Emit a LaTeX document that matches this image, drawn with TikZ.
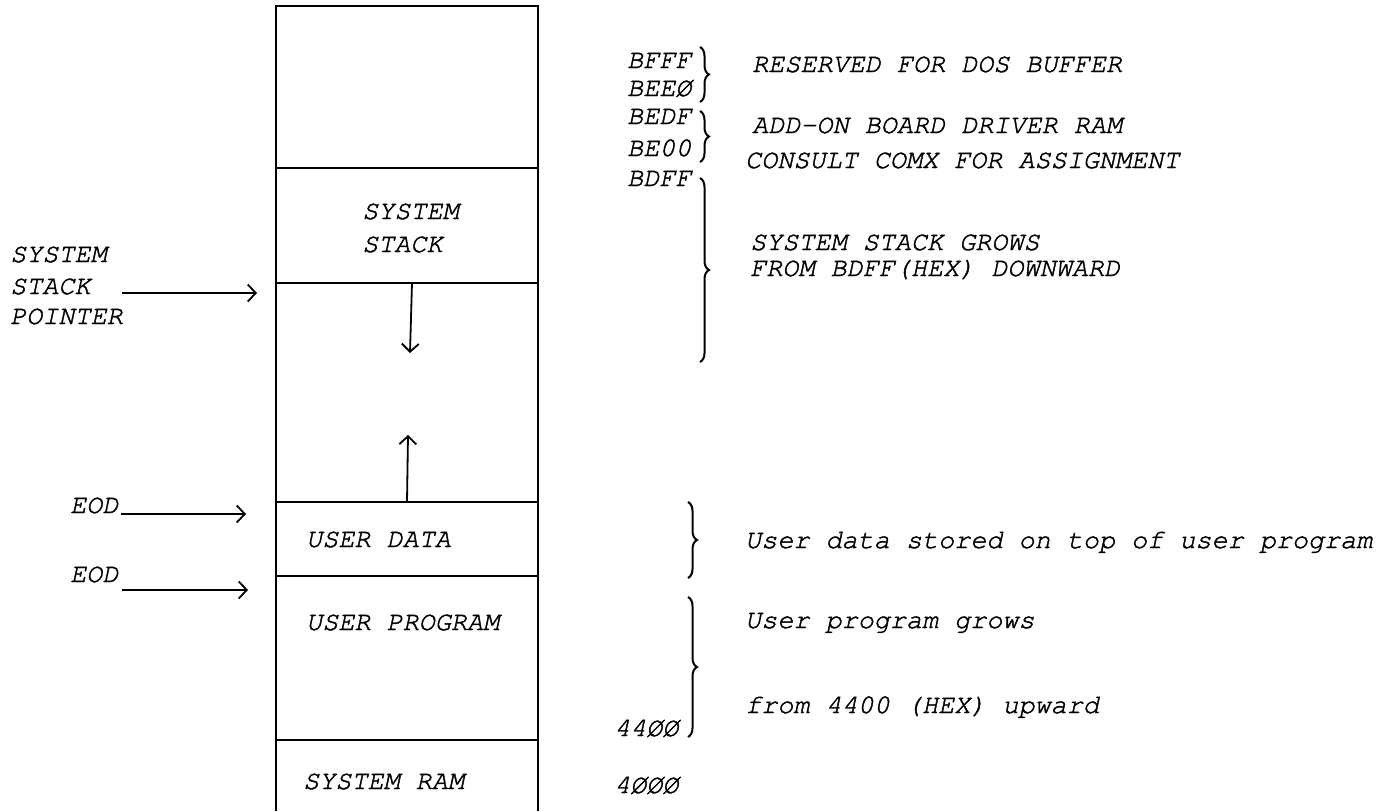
\documentclass[tikz,border=0pt]{standalone}
\usepackage{fontspec}
\setmonofont{texgyrecursor-regular.otf}[ItalicFont=texgyrecursor-italic.otf,ItalicFeatures={FakeBold=1.6}]
\usetikzlibrary{arrows.meta,decorations.pathreplacing}
\begin{document}
\begin{tikzpicture}[x=1pt,y=-1pt,
  txt/.style={anchor=base west,inner sep=0pt,font=\fontsize{26.8}{30}\selectfont\ttfamily\itshape},
  wall/.style={line width=2pt},
  ptr/.style={line width=1.8pt,-{Straight Barb[length=8pt,width=17pt,line width=1.8pt]}},
  brc/.style={line width=2pt,decorate,decoration={brace,amplitude=9pt,aspect=0.5}}]
\useasboundingbox[fill=white] (0,0) rectangle (1399,811);

% memory map column
\draw[wall] (276,811) -- (276,6) -- (538,6) -- (538,811);
\foreach \y in {168,283,502,576,740} \draw[wall] (276,\y) -- (538,\y);

% labels inside the column
\node[txt] (ss1) at (362,219) {SYSTEM};
\node[txt] (ss2) at (362,252) {STACK};
\node[txt] (ud) at (306,547) {USER DATA};
\node[txt] (up) at (306,630) {USER PROGRAM};
\node[txt] (sr) at (303,789) {SYSTEM RAM};

% growth arrows
\coordinate (dnA) at (412,283);
\coordinate (dnB) at (410,353);
\coordinate (upA) at (407,502);
\coordinate (upB) at (408,435);
\draw[ptr] (dnA) -- (dnB);
\draw[ptr] (upA) -- (upB);

% left labels and pointers
\node[txt] (spl1) at (10,262) {SYSTEM};
\node[txt] (spl2) at (10,294) {STACK};
\node[txt] (spl3) at (10,324) {POINTER};
\coordinate (spA) at (122,293);
\coordinate (spB) at (257,293);
\draw[ptr] (spA) -- (spB);

\node[txt] (eod1) at (70,513) {EOD};
\coordinate (e1A) at (121,514);
\coordinate (e1B) at (246,514);
\draw[ptr] (e1A) -- (e1B);

\node[txt] (eod2) at (70,582) {EOD};
\coordinate (e2A) at (122,590);
\coordinate (e2B) at (248,590);
\draw[ptr] (e2A) -- (e2B);

% addresses
\node[txt] (a1) at (627,68) {BFFF};
\node[txt] (a2) at (627,96) {BEEØ};
\node[txt] (a3) at (627,124) {BEDF};
\node[txt] (a4) at (627,156) {BE00};
\node[txt] (a5) at (627,186) {BDFF};
\node[txt] (a6) at (614,736) {44ØØ};
\node[txt] (a7) at (614,793) {4ØØØ};

% braces
\draw[brc] (700,47) -- (700,102);
\draw[brc] (700,111) -- (700,162);
\draw[brc] (700,178) -- (700,362);
\draw[brc] (688,502) -- (688,578);
\draw[brc] (688,597) -- (688,737);

% descriptions
\node[txt] (d1) at (752,72) {RESERVED FOR DOS BUFFER};
\node[txt] (d2) at (752,133) {ADD-ON BOARD DRIVER RAM};
\node[txt] (d3) at (745,168) {CONSULT COMX FOR ASSIGNMENT};
\node[txt] (d4) at (750,250) {SYSTEM STACK GROWS};
\node[txt] (d5) at (750,276) {FROM BDFF(HEX) DOWNWARD};
\node[txt] (d6) at (745,548) {User data stored on top of user program};
\node[txt] (d7) at (745,628) {User program grows};
\node[txt] (d8) at (745,713) {from 4400 (HEX) upward};
\end{tikzpicture}
\end{document}
